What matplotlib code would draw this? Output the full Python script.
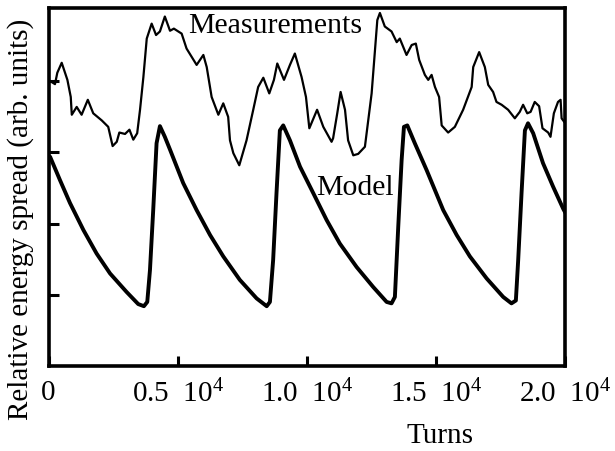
import matplotlib
matplotlib.use("Agg")
import matplotlib.pyplot as plt

plt.rcParams['font.family'] = ['Liberation Serif', 'DejaVu Serif']
plt.rcParams['mathtext.fontset'] = 'custom'
plt.rcParams['mathtext.rm'] = 'Liberation Serif'
plt.rcParams['mathtext.it'] = 'Liberation Serif:italic'

meas_turns = [120, 250, 340, 510, 730, 860, 900, 1090, 1280, 1520, 1730, 2060, 2310,
              2480, 2640, 2740, 2960, 3130, 3280, 3430, 3540, 3670, 3800, 3990, 4160,
              4310, 4500, 4700, 4850, 5020, 5150, 5340, 5730, 5990, 6120, 6310, 6570,
              6760, 6950, 7020, 7150, 7380, 7660, 7920, 8110, 8310, 8540, 8720, 8850,
              9110, 9340, 9530, 9790, 9960, 10090, 10390, 10630, 10950, 11010, 11170,
              11300, 11470, 11590, 11790, 11980, 12240, 12500, 12720, 12820, 13010,
              13270, 13470, 13590, 13850, 14050, 14210, 14340, 14560, 14690, 14820,
              14950, 15110, 15210, 15460, 15720, 16040, 16370, 16430, 16660, 16880,
              17010, 17200, 17330, 17530, 17780, 18040, 18230, 18360, 18520, 18650,
              18810, 18980, 19110, 19330, 19420, 19550, 19710, 19810, 19850, 19970]
meas_spread = [3.99, 3.96, 4.12, 4.26, 4.02, 3.78, 3.53, 3.64, 3.53, 3.74, 3.55, 3.45, 3.36,
               3.09, 3.15, 3.28, 3.26, 3.32, 3.18, 3.27, 3.60, 4.06, 4.60, 4.81, 4.65,
               4.70, 4.91, 4.71, 4.74, 4.70, 4.67, 4.46, 4.23, 4.37, 4.20, 3.78, 3.53,
               3.69, 3.50, 3.17, 2.99, 2.82, 3.17, 3.60, 3.92, 4.05, 3.83, 4.02, 4.25,
               4.02, 4.23, 4.39, 4.06, 3.78, 3.34, 3.60, 3.36, 3.15, 3.20, 3.55,
               3.85, 3.60, 3.17, 2.96, 2.98, 3.08, 3.83, 4.86, 4.96, 4.77,
               4.70, 4.55, 4.60, 4.37, 4.51, 4.53, 4.30, 4.09, 4.02, 4.09,
               3.92, 3.78, 3.38, 3.28, 3.36, 3.60, 3.92, 4.20, 4.41, 4.20,
               3.95, 3.85, 3.71, 3.67, 3.60, 3.48, 3.57, 3.67, 3.55, 3.57,
               3.71, 3.65, 3.34, 3.28, 3.22, 3.55, 3.71, 3.74, 3.48, 3.42]

# model curve
model_turns = [60, 445, 830, 1350, 1860, 2380, 3020, 3470, 3690, 3820, 3925, 4050, 4180,
               4310, 4500, 4700, 5210, 5730, 6250, 6760, 7400, 8050, 8440, 8565, 8690,
               8820, 8950, 9080, 9340, 9730, 10240, 10760, 11270, 11920, 12560, 13080,
               13270, 13400, 13530, 13660, 13750, 13880, 14170, 14630, 15270, 15790,
               16300, 16950, 17590, 17910, 18080, 18170, 18300, 18430, 18550, 18750,
               19130, 19520, 19910, 20000]
model_spread = [2.94, 2.61, 2.29, 1.91, 1.58, 1.30, 1.04, 0.87, 0.84, 0.90, 1.35, 2.19, 3.13,
                3.37, 3.22, 3.04, 2.57, 2.19, 1.84, 1.54, 1.21, 0.95, 0.84, 0.90, 1.49,
                2.43, 3.31, 3.38, 3.17, 2.80, 2.43, 2.05, 1.72, 1.39, 1.11, 0.90,
                0.88, 0.97, 1.96, 2.89, 3.36, 3.38, 3.13, 2.75, 2.19, 1.84,
                1.54, 1.23, 0.97, 0.88, 0.92, 1.49, 2.43, 3.31, 3.41, 3.27,
                2.85, 2.52, 2.21, 2.15]

xtick_vals = [0, 5000, 10000, 15000, 20000]
xtick_labels = ['0', '0.5  $10^4$', '1.0  $10^4$', '1.5  $10^4$', '2.0  $10^4$']
ytick_vals = [1, 2, 3, 4]

fig = plt.figure(figsize=(6.15, 4.51), dpi=100)
ax = fig.add_axes([0.0789, 0.1885, 0.9195 - 0.0789, 0.9823 - 0.1885])

ax.plot(meas_turns, meas_spread, color='black', lw=1.6, solid_joinstyle='round')
ax.plot(model_turns, model_spread, color='black', lw=2.8, solid_joinstyle='round',
        solid_capstyle='round')

ax.text(5390, 4.68, 'Measurements', fontsize=21.5, ha='left', va='baseline')
ax.text(10370, 2.40, 'Model', fontsize=21.5, ha='left', va='baseline')

ax.set_xlim(0, 20000)
ax.set_ylim(0, 5.03)
ax.set_xticks(xtick_vals)
ax.set_xticklabels(xtick_labels, fontsize=21)
ax.set_yticks(ytick_vals)
ax.set_yticklabels([])
ax.tick_params(direction='in', length=7, width=2.2)
ax.tick_params(axis='x', pad=10)
for sp in ax.spines.values():
    sp.set_linewidth(2.6)

fig.text(21 / 615, 1 - 219 / 451, 'Relative energy spread (arb. units)', rotation=90,
         ha='center', va='center', fontsize=21)
fig.text(440 / 615, 1 - 436 / 451, 'Turns', ha='center', va='center', fontsize=21)

fig.savefig('out.png', dpi=100)
